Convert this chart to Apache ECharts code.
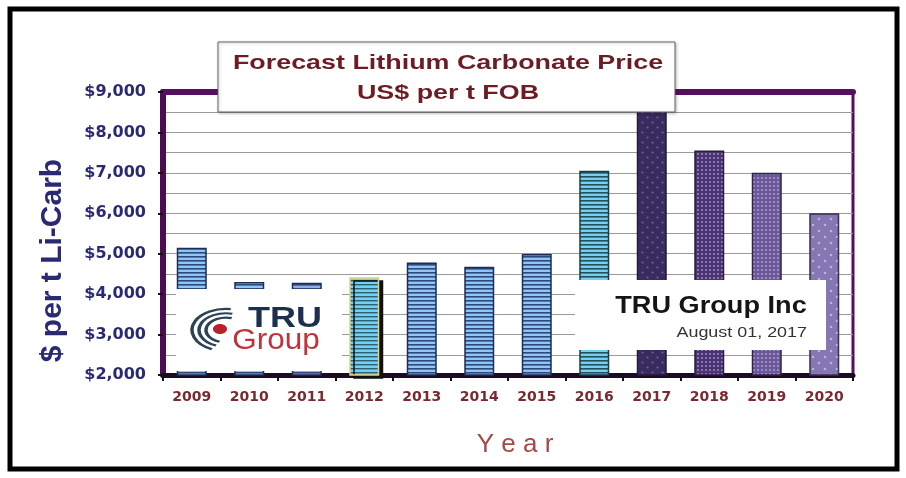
<!DOCTYPE html>
<html>
<head>
<meta charset="utf-8">
<script src="https://cdn.jsdelivr.net/npm/echarts@6/dist/echarts.min.js"></script>
<style>
html,body{margin:0;padding:0;background:#fff;}
#chart{width:906px;height:478px;}
</style>
</head>
<body>
<div id="chart"></div>
<script>
// ---- data ----
const years = ['2009','2010','2011','2012','2013','2014','2015','2016','2017','2018','2019','2020'];
const prices = [5150, 4300, 4280, 4420, 4780, 4680, 4990, 7050, 9000, 7550, 7000, 6000];
const yMin = 2000;
const yMax = 9000;
const yStep = 1000;
const titleLines = ['Forecast Lithium Carbonate Price', 'US$ per t FOB'];
const yAxisTitle = '$ per t Li-Carb';
const xAxisTitle = 'Y e a r';
const stampTitle = 'TRU Group Inc';
const stampDate = 'August 01, 2017';
// fill style key per bar
const barFillKeys = ['blue','blue','slate','cyan12','blue','blue','blue','cyan','purple1','purple2','purple3','purple4'];

// ---- patterns ----
function stripes(light, dark, period, darkH){
  const c = document.createElement('canvas');
  c.width = 4; c.height = period;
  const g = c.getContext('2d');
  g.fillStyle = light; g.fillRect(0,0,4,period);
  g.fillStyle = dark; g.fillRect(0,0,4,darkH);
  return {image: c, repeat: 'repeat'};
}
function dots(base, dot, step, r, stagger){
  const c = document.createElement('canvas');
  c.width = step*2; c.height = step*2;
  const g = c.getContext('2d');
  g.fillStyle = base; g.fillRect(0,0,step*2,step*2);
  g.fillStyle = dot;
  const pts = stagger ? [[0.5,0.5],[1.5,1.5]] : [[0.5,0.5],[1.5,0.5],[0.5,1.5],[1.5,1.5]];
  pts.forEach(p=>{ g.beginPath(); g.arc(p[0]*step, p[1]*step, r, 0, Math.PI*2); g.fill(); });
  return {image: c, repeat: 'repeat'};
}
const fills = {
  blue:   {color: stripes('#8fc6f4', '#2e4a7c', 4, 1.6), borderColor:'#1d2d55', borderWidth:1.5},
  slate:  {color: stripes('#8fb0e6', '#35487a', 4, 1.6), borderColor:'#1d2d55', borderWidth:1.5},
  cyan12: {color: stripes('#6fd2f2', '#2d5f70', 4, 1.4), borderColor:'#e6cf7a', borderWidth:1.5,
           shadowColor:'#101010', shadowOffsetX:4, shadowOffsetY:3, shadowBlur:0},
  cyan:   {color: stripes('#74d0ec', '#24505e', 4, 1.6), borderColor:'#1c3a48', borderWidth:1.5},
  purple1:{color: dots('#3a2b5e', '#6e5c9c', 5, 1.1, true), borderColor:'#231a3c', borderWidth:1.5},
  purple2:{color: dots('#4a346f', '#9a82c8', 4, 1.1, false), borderColor:'#2a1d44', borderWidth:1.5},
  purple3:{color: dots('#6c5896', '#a996d2', 4, 1.1, false), borderColor:'#2f2448', borderWidth:1.5},
  purple4:{color: dots('#8676b2', '#bdb0dc', 6, 1.3, true), borderColor:'#3a2e56', borderWidth:1.5}
};

function money(v){ return '$' + String(v).replace(/\B(?=(\d{3})+(?!\d))/g, ','); }

const chart = echarts.init(document.getElementById('chart'), null, {renderer:'canvas'});
const navy = '#2a2a74';
const maroon = '#6c1c22';
const sans = '"Liberation Sans", Arial, sans-serif';
const wide = '"DejaVu Sans", Verdana, sans-serif';

chart.setOption({
  animation: false,
  backgroundColor: '#fff',
  textStyle: {fontFamily: sans},
  grid: {left: 163, right: 53, top: 92, bottom: 103, show: true, borderColor: '#560f5e', borderWidth: 3, backgroundColor: '#fff'},
  xAxis: [{
    type: 'category', data: years,
    axisLine: {lineStyle: {color: '#1a0c22', width: 5}},
    axisTick: {show: true, length: 6, lineStyle: {color: '#111', width: 2}},
    axisLabel: {color: '#7a2a2e', fontWeight: 'bold', fontSize: 14, margin: 15, fontFamily: wide},
    name: xAxisTitle, nameLocation: 'middle', nameGap: 57,
    nameTextStyle: {color: '#a64848', fontSize: 26, padding: [0,0,0,14], fontFamily: sans},
    splitLine: {show: false}
  },{
    type: 'category', data: years, position: 'top',
    axisLine: {lineStyle: {color: '#560f5e', width: 6}},
    axisTick: {show: false}, axisLabel: {show: false}
  }],
  yAxis: {
    type: 'value', min: yMin, max: yMax, interval: yStep,
    axisLine: {show: true, lineStyle: {color: '#4e0c52', width: 6}},
    axisTick: {show: true, length: 5, lineStyle: {color: '#111', width: 2}},
    axisLabel: {color: navy, fontWeight: 'bold', fontSize: 16, margin: 17, formatter: money, fontFamily: wide},
    splitLine: {show: true, lineStyle: {color: '#9a9a9a', width: 1}},
    minorTick: {show: false, splitNumber: 2},
    minorSplitLine: {show: true, lineStyle: {color: '#9a9a9a', width: 1}},
    name: yAxisTitle, nameLocation: 'middle', nameRotate: 90, nameGap: 95,
    nameTextStyle: {color: navy, fontSize: 30, fontWeight: 'bold', padding: [0, 54, 0, 0], fontFamily: sans}
  },
  series: [{
    type: 'bar', barWidth: 30,
    data: prices.map((v, i) => ({value: v, itemStyle: fills[barFillKeys[i]]})),
    z: 3
  }],
  graphic: [
    // outer frame
    {type: 'rect', shape: {x: 10, y: 9, width: 887, height: 460}, style: {fill: 'none', stroke: '#000', lineWidth: 5}, z: 50, silent: true},
    // title box
    {type: 'rect', shape: {x: 218, y: 42, width: 457, height: 70},
     style: {fill: '#fff', stroke: '#666', lineWidth: 1, shadowColor: 'rgba(0,0,0,0.25)', shadowBlur: 3, shadowOffsetX: 1, shadowOffsetY: 1}, z: 10},
    {type: 'text', x: 448, y: 63, scaleX: 1.28,
     style: {text: titleLines[0], font: 'bold 21px ' + sans, fill: maroon, align: 'center', verticalAlign: 'middle'}, z: 12},
    {type: 'text', x: 448, y: 93, scaleX: 1.28,
     style: {text: titleLines[1], font: 'bold 21px ' + sans, fill: maroon, align: 'center', verticalAlign: 'middle'}, z: 12},
    // logo box
    {type: 'rect', shape: {x: 176, y: 289, width: 166, height: 82}, style: {fill: '#fff'}, z: 10},
    {type: 'arc', x: 226, y: 330, scaleY: 0.62, shape: {cx: 0, cy: 0, r: 20, startAngle: 1.9, endAngle: 5.0},
     style: {stroke: '#2c4255', lineWidth: 3.5, fill: 'none'}, z: 11},
    {type: 'arc', x: 226, y: 330, scaleY: 0.62, shape: {cx: 0, cy: 0, r: 27, startAngle: 1.95, endAngle: 4.95},
     style: {stroke: '#2c4255', lineWidth: 3.5, fill: 'none'}, z: 11},
    {type: 'arc', x: 226, y: 330, scaleY: 0.62, shape: {cx: 0, cy: 0, r: 34, startAngle: 2.0, endAngle: 4.85},
     style: {stroke: '#2c4255', lineWidth: 3.5, fill: 'none'}, z: 11},
    {type: 'ellipse', shape: {cx: 220, cy: 329, rx: 7, ry: 5}, style: {fill: '#b8232b'}, z: 12},
    {type: 'text', x: 285, y: 319, scaleX: 1.2,
     style: {text: 'TRU', font: 'bold 30px ' + sans, fill: '#1d2f4e', align: 'center', verticalAlign: 'middle'}, z: 12},
    {type: 'text', x: 276, y: 341, scaleX: 1.05,
     style: {text: 'Group', font: '30px ' + sans, fill: '#c2323b', align: 'center', verticalAlign: 'middle'}, z: 12},
    // stamp box
    {type: 'rect', shape: {x: 575, y: 280, width: 251, height: 70}, style: {fill: '#fff'}, z: 10},
    {type: 'text', x: 711, y: 307, scaleX: 1.18,
     style: {text: stampTitle, font: 'bold 23px ' + sans, fill: '#151515', align: 'center', verticalAlign: 'middle'}, z: 12},
    {type: 'text', x: 807, y: 333, scaleX: 1.28,
     style: {text: stampDate, font: '14px ' + sans, fill: '#333', align: 'right', verticalAlign: 'middle'}, z: 12}
  ]
});
</script>
</body>
</html>
